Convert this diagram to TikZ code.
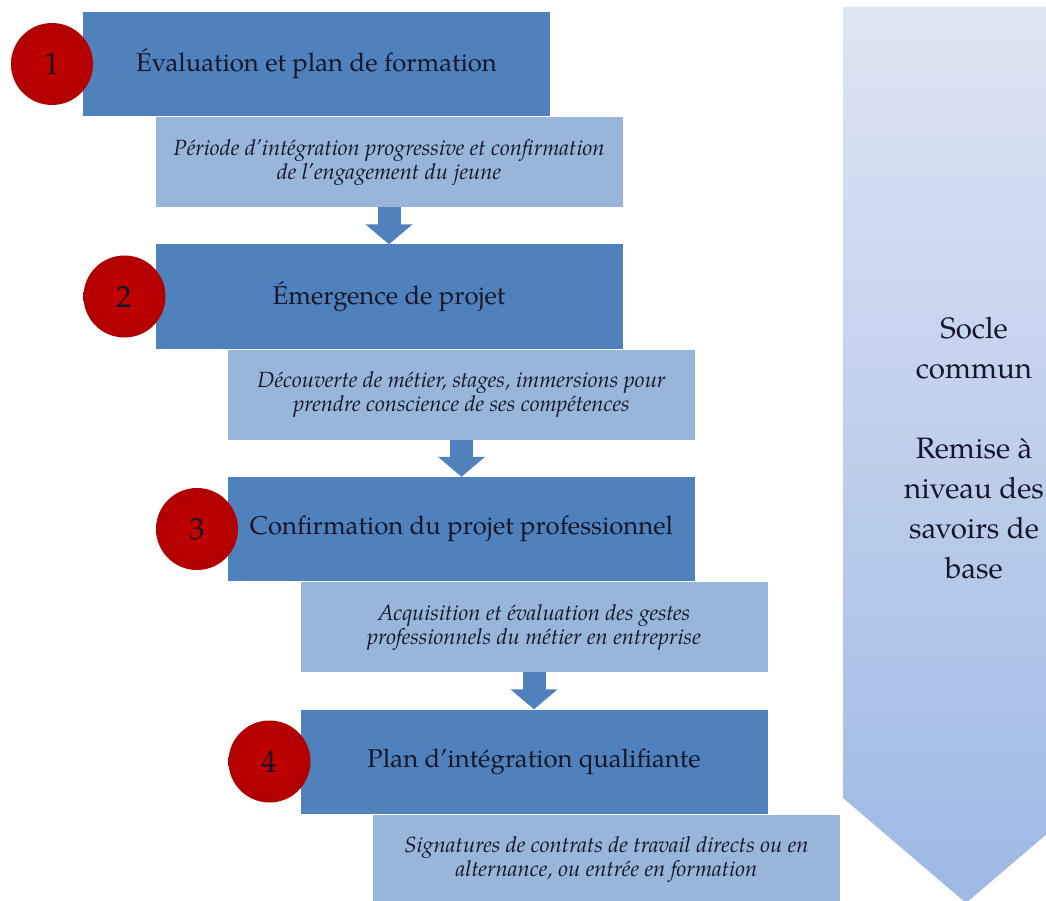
\documentclass[tikz,border=0pt]{standalone}
\usepackage{fontspec}
\setmainfont{TeX Gyre Pagella}
\usetikzlibrary{arrows.meta}

\definecolor{bleufonce}{RGB}{79,129,189}
\definecolor{bleuclair}{RGB}{152,181,218}
\definecolor{rouge}{RGB}{194,0,0}
\definecolor{rougesombre}{RGB}{178,0,0}
\definecolor{encre}{RGB}{22,22,40}
\definecolor{socle haut}{RGB}{222,229,243}
\definecolor{socle bas}{RGB}{158,184,228}

\tikzset{
  etape/.style={fill=bleufonce, text=encre, minimum width=467pt, minimum height=104pt,
    inner sep=0pt, align=center, font=\fontsize{25.7}{30}\selectfont},
  detail/.style={fill=bleuclair, text=encre, minimum width=467pt, minimum height=90pt,
    inner sep=0pt, align=center, font=\fontsize{22}{24}\selectfont\itshape},
  numero/.style={circle, minimum size=82pt, inner sep=0pt, inner color=rouge,
    outer color=rougesombre, text=encre, font=\fontsize{31}{31}\selectfont},
  fleche/.style={draw=bleufonce, line width=23pt,
    -{Triangle[width=46pt,length=20pt]}},
  socle/.style={text=encre, align=center, font=\fontsize{29.5}{40}\selectfont}
}

\begin{document}
\begin{tikzpicture}[x=1pt,y=-1pt]
    \useasboundingbox (0,0) rectangle (1046,901);
    \clip (0,0) rectangle (1046,901);

    % the common base arrow on the right
    \shade[top color=socle haut, bottom color=socle bas]
      (843,7) -- (1089,7) -- (1089,798) -- (966,903) -- (843,798) -- cycle;
    \node[socle] (socle) at (974,448) {Socle\\commun\\[40pt]Remise à\\niveau des\\savoirs de\\base};

    % the steps
    \node[etape] (etape1) at (316.5,64) {Évaluation et plan de formation};
    \node[etape] (etape2) at (389,296.5) {Émergence de projet};
    \node[etape] (etape3) at (461.5,529) {Confirmation du projet professionnel};
    \node[etape] (etape4) at (534,761.5) {Plan d’intégration qualifiante};

    % the details under each step
    \node[detail] (detail1) at (389,162) {Période d’intégration progressive et confirmation\\de l’engagement du jeune};
    \node[detail] (detail2) at (461.5,394.5) {Découverte de métier, stages, immersions pour\\prendre conscience de ses compétences};
    \node[detail] (detail3) at (534,627) {Acquisition et évaluation des gestes\\professionnels du métier en entreprise};
    \node[detail] (detail4) at (606.5,859.5) {Signatures de contrats de travail directs ou en\\alternance, ou entrée en formation};

    % the numbers
    \node[numero] (num1) at (52,64) {1};
    \node[numero] (num2) at (124.5,296.5) {2};
    \node[numero] (num3) at (197,529) {3};
    \node[numero] (num4) at (269.5,761.5) {4};

    % the arrows between the steps
    \draw[fleche] (detail1) -- (etape2);
    \draw[fleche] (detail2) -- (etape3);
    \draw[fleche] (detail3) -- (etape4);
\end{tikzpicture}
\end{document}
